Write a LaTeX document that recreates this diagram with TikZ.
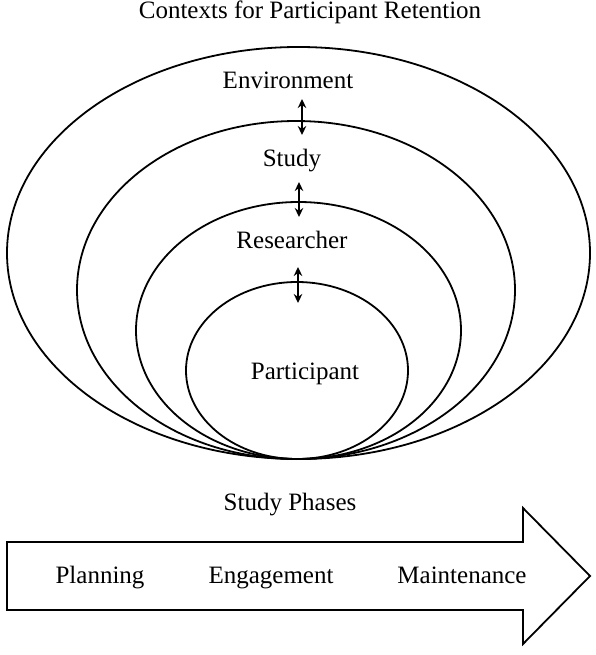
\documentclass[tikz,border=0pt]{standalone}
\usepackage{fontspec}
\setmainfont{Liberation Serif}
\usetikzlibrary{arrows.meta}
\begin{document}
\begin{tikzpicture}[x=1pt,y=-1pt,
  ring/.style={line width=1.8pt},
  lbl/.style={font=\fontsize{25}{29}\selectfont, inner sep=0pt, anchor=base},
  dbl/.style={line width=2pt, {Stealth[length=9pt,width=8.5pt]}-{Stealth[length=9pt,width=8.5pt]}},
  bigarrow/.style={line width=1.8pt, line join=miter}]
\useasboundingbox (0,0) rectangle (596,655);
% nested contexts
\draw[ring] (298.5,253) ellipse [x radius=291.5, y radius=206];
\draw[ring] (296,290) ellipse [x radius=219, y radius=169];
\draw[ring] (298.5,330.5) ellipse [x radius=162.5, y radius=128.5];
\draw[ring] (297,370.5) ellipse [x radius=111, y radius=88.5];
% labels
\node[lbl] (title) at (310,19) {Contexts for Participant Retention};
\node[lbl] (env) at (288,89) {Environment};
\node[lbl] (study) at (292,167) {Study};
\node[lbl] (res) at (292,248) {Researcher};
\node[lbl] (part) at (305,379) {Participant};
% double arrows
\coordinate (a1t) at (302,99);  \coordinate (a1b) at (302,135);
\coordinate (a2t) at (299,182); \coordinate (a2b) at (299,217);
\coordinate (a3t) at (298,267); \coordinate (a3b) at (298,303);
\draw[dbl] (a1t) -- (a1b);
\draw[dbl] (a2t) -- (a2b);
\draw[dbl] (a3t) -- (a3b);
% study phases
\node[lbl] (phases) at (290,510) {Study Phases};
\draw[bigarrow] (7,542) -- (523,542) -- (523,508) -- (590,576) -- (523,644) -- (523,610) -- (7,610) -- cycle;
\node[lbl] (plan) at (100,583) {Planning};
\node[lbl] (eng) at (271,583) {Engagement};
\node[lbl] (main) at (462,583) {Maintenance};
\end{tikzpicture}
\end{document}
